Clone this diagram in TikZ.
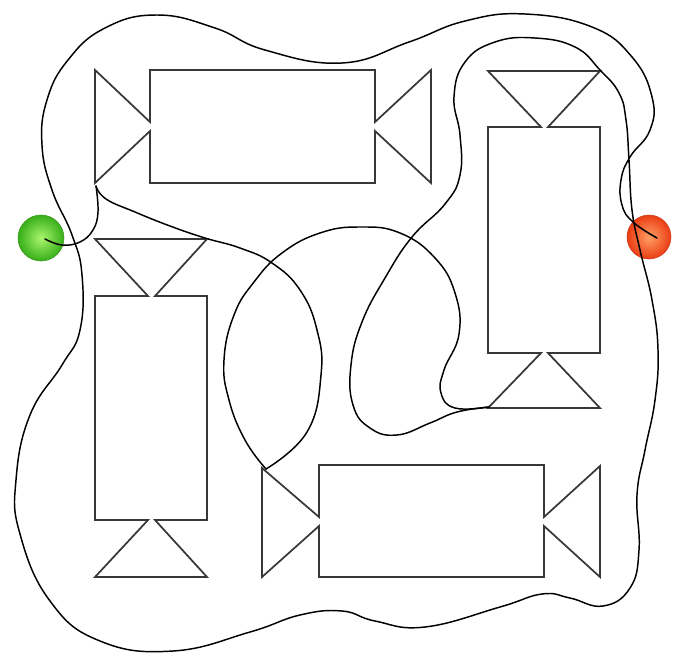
\documentclass[tikz,border=0pt]{standalone}
\begin{document}
\begin{tikzpicture}[x=0.75pt,y=-0.75pt,
  wrapper/.style={draw=black!78,line width=1.3pt,line join=miter},
  rope/.style={draw=black,line width=1.1pt,line cap=round,line join=round},
  greenball/.style={inner color={rgb,255:red,170;green,245;blue,110},outer color={rgb,255:red,55;green,175;blue,25},draw={rgb,255:red,60;green,150;blue,30},line width=0.4pt},
  redball/.style={inner color={rgb,255:red,255;green,160;blue,100},outer color={rgb,255:red,235;green,60;blue,20},draw={rgb,255:red,200;green,60;blue,30},line width=0.4pt}]
\useasboundingbox (0,0) rectangle (684,668);
\fill[white] (0,0) rectangle (684,668);
% balls
\coordinate (gball) at (41,238);
\coordinate (rball) at (649,237);
\shade[greenball] (gball) circle (23);
\shade[redball] (rball) circle (22);
% wrapped blocks
\draw[wrapper] (150,122) -- (150,70) -- (375,70) -- (375,122) -- (431,70) -- (431,183) -- (375,131) -- (375,183) -- (150,183) -- (150,131) -- (95,183) -- (95,70) -- cycle;
\draw[wrapper] (541,127) -- (488,127) -- (488,353) -- (541,353) -- (488,408) -- (600,408) -- (548,353) -- (600,353) -- (600,127) -- (548,127) -- (600,71) -- (488,71) -- cycle;
\draw[wrapper] (148,296) -- (95,296) -- (95,520) -- (148,520) -- (95,577) -- (207,577) -- (155,520) -- (207,520) -- (207,296) -- (155,296) -- (207,239) -- (95,239) -- cycle;
\draw[wrapper] (319,517) -- (319,465) -- (544,465) -- (544,517) -- (600,466) -- (600,577) -- (544,526) -- (544,577) -- (319,577) -- (319,526) -- (262,577) -- (262,468) -- cycle;
% rope
\draw[rope] plot[smooth,tension=0.7] coordinates {(45,239) (62,245) (80,242) (93,230) (98,212) (96,186)};
\draw[rope] plot[smooth,tension=0.75] coordinates {(96,186) (106,199) (135,212) (170,226) (205,238) (240,248) (272,263) (300,290) (317,330) (321,375) (307,432) (266,469)};
\draw[rope] plot[smooth,tension=0.75] coordinates {(266,469) (245,440) (229,400) (224,360) (234,315) (254,282) (282,253) (320,233) (360,227) (400,233) (435,258) (455,293) (459,334) (444,370) (441,393) (455,408) (489,407)};
\draw[rope] plot[smooth,tension=0.75] coordinates {(489,407) (457,412) (430,423) (397,435) (370,428) (353,405) (351,365) (362,322) (385,278) (412,237) (445,204) (460,175) (460,135) (454,97) (465,62) (495,42) (535,38) (575,47) (600,70) (619,93) (626,120) (629,160) (632,210) (640,250) (652,300) (658,350) (655,400) (645,450) (637,495) (639,550) (630,588) (603,606) (570,598) (542,594) (500,607) (425,627) (375,621) (342,611) (300,615) (250,632) (173,651) (100,641) (50,601) (20,534) (16,480) (30,415) (62,365) (80,330) (82,275) (72,235) (52,190) (42,145) (47,100) (68,60) (105,28) (157,15) (215,28) (265,50) (342,63) (409,42) (465,21) (525,14) (592,27) (632,57) (652,97) (650,130) (630,157) (621,180) (622,205) (633,222) (657,238)};
\end{tikzpicture}
\end{document}
